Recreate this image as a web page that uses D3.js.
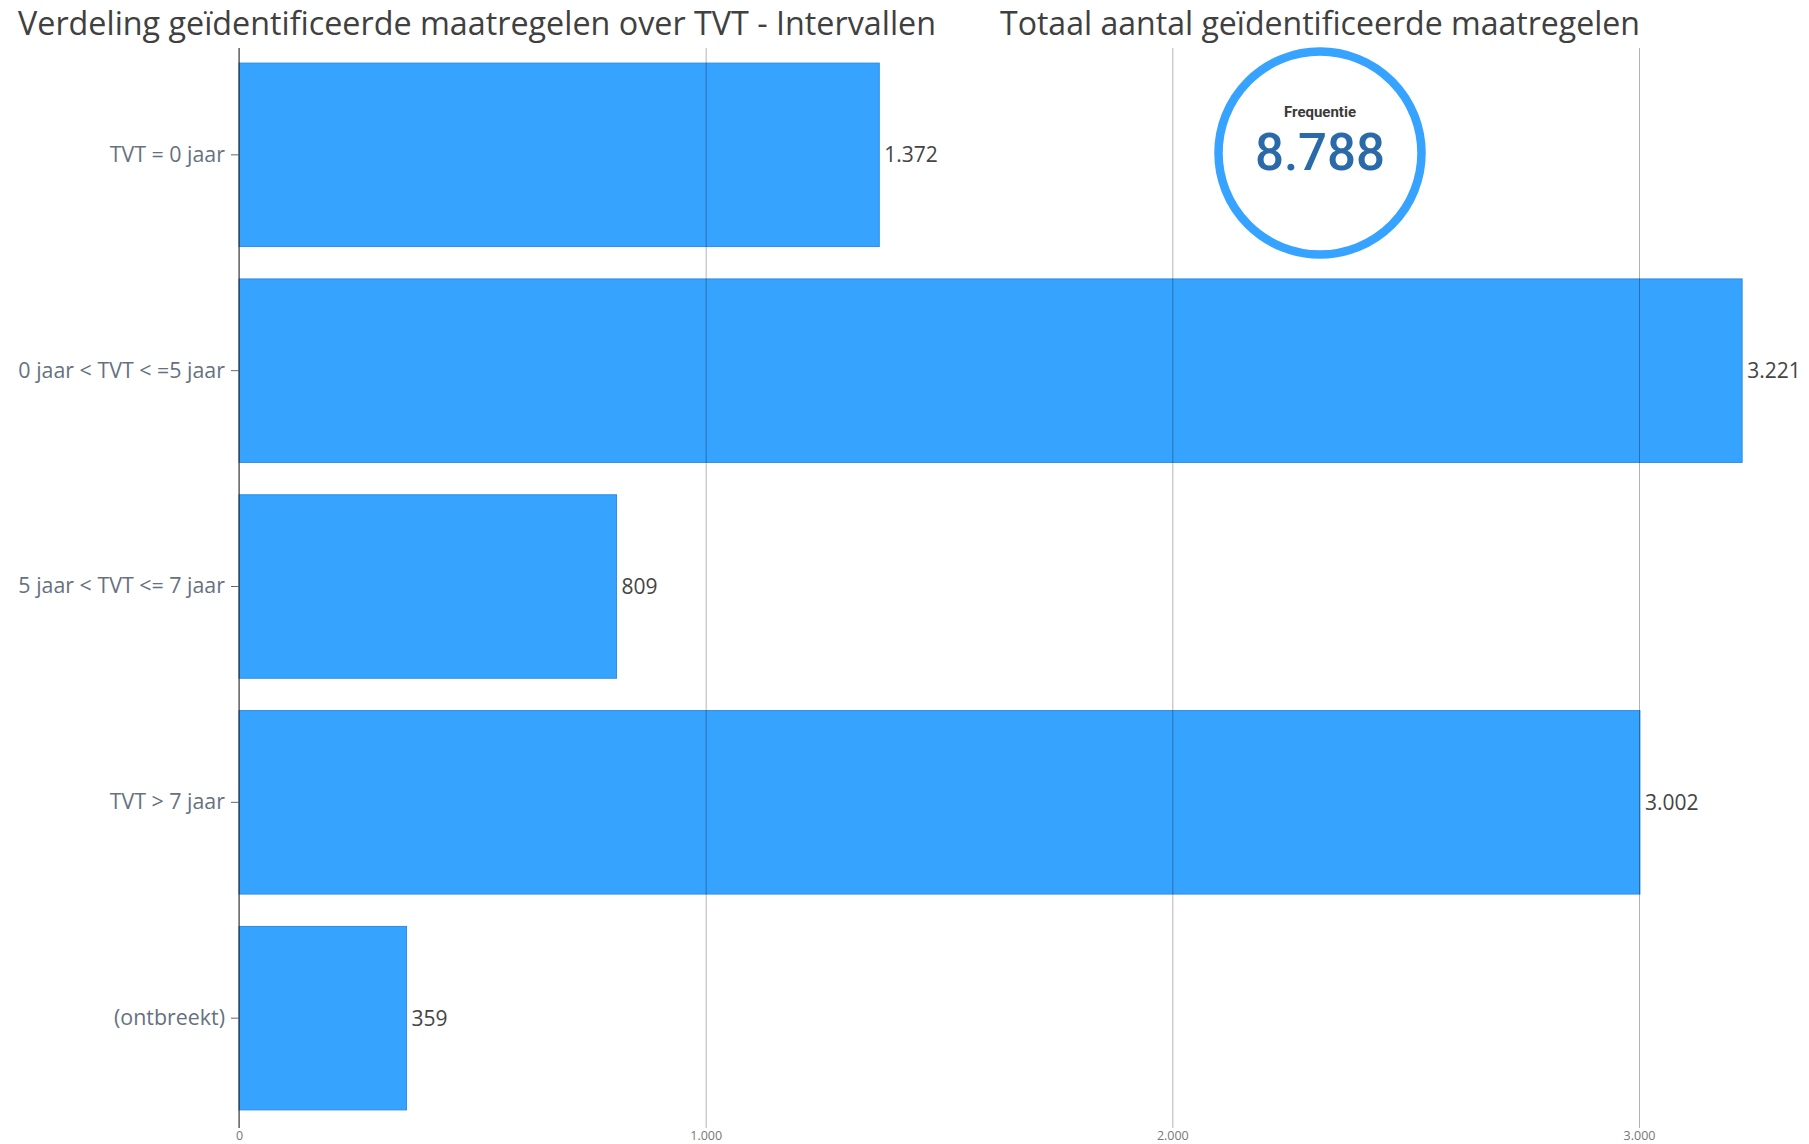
<!DOCTYPE html>
<html>
<head>
<meta charset="utf-8">
<script src="https://cdn.jsdelivr.net/npm/d3@7"></script>
<style>
  body { margin: 0; background: #fff; }
  svg { display: block; font-family: 'Open Sans', sans-serif; }
</style>
</head>
<body>
<div id="chart"></div>
<script>
const categories = ['TVT = 0 jaar', '0 jaar < TVT < =5 jaar', '5 jaar < TVT <= 7 jaar', 'TVT > 7 jaar', '(ontbreekt)'];
const values = [1372, 3221, 809, 3002, 359];
const xTicks = [0, 1000, 2000, 3000];
const total = 8788;

const width = 1809;
const height = 1144;
const fmt = d3.format(',');
const nl = v => fmt(v).replace(/,/g, '.');

const data = categories.map((c, i) => ({ cat: c, value: values[i] }));

const svg = d3.select('#chart')
  .append('svg')
  .attr('width', width)
  .attr('height', height);

const xScale = d3.scaleLinear()
  .domain([0, 3000])
  .range([239, 1639]);

const yScale = d3.scaleBand()
  .domain(categories)
  .range([48, 1125])
  .paddingInner(0.15)
  .paddingOuter(0.07);

// titles
svg.append('text')
  .attr('x', 18)
  .attr('y', 35)
  .attr('font-size', 33)
  .attr('fill', '#404040')
  .attr('textLength', 918)
  .attr('lengthAdjust', 'spacingAndGlyphs')
  .text('Verdeling geïdentificeerde maatregelen over TVT - Intervallen');

svg.append('text')
  .attr('x', 1000)
  .attr('y', 35)
  .attr('font-size', 33)
  .attr('fill', '#404040')
  .attr('textLength', 640)
  .attr('lengthAdjust', 'spacingAndGlyphs')
  .text('Totaal aantal geïdentificeerde maatregelen');

// bars
svg.selectAll('.bar')
  .data(data)
  .enter()
  .append('rect')
  .attr('class', 'bar')
  .attr('x', xScale(0))
  .attr('y', d => yScale(d.cat))
  .attr('width', d => xScale(d.value) - xScale(0))
  .attr('height', yScale.bandwidth())
  .attr('fill', '#35a3ff')
  .attr('stroke', '#2d8de0')
  .attr('stroke-width', 1);

// grid lines over the bars
const xAxis = d3.axisBottom(xScale)
  .tickValues(xTicks)
  .tickSize(-(1128 - 48))
  .tickPadding(3)
  .tickFormat(nl);

const gx = svg.append('g')
  .attr('transform', 'translate(0,1128)')
  .call(xAxis);
gx.select('.domain').remove();
gx.selectAll('.tick line')
  .attr('stroke', '#000')
  .attr('stroke-opacity', 0.3);
gx.selectAll('.tick text')
  .attr('font-size', 12.5)
  .attr('fill', '#777')
  .attr('font-family', "'Open Sans', sans-serif");

// y axis
const yAxis = d3.axisLeft(yScale).tickSize(8).tickPadding(6);
const gy = svg.append('g')
  .attr('transform', 'translate(239,0)')
  .call(yAxis);
gy.select('.domain')
  .attr('d', 'M0,48V1128')
  .attr('stroke', '#333');
gy.selectAll('.tick line').attr('stroke', '#666');
gy.selectAll('.tick text')
  .attr('font-size', 21.4)
  .attr('fill', '#667180')
  .attr('font-family', "'Open Sans', sans-serif");

// value labels
svg.selectAll('.val')
  .data(data)
  .enter()
  .append('text')
  .attr('class', 'val')
  .attr('x', d => xScale(d.value) + 5)
  .attr('y', d => yScale(d.cat) + yScale.bandwidth() / 2)
  .attr('dy', '0.35em')
  .attr('font-size', 21)
  .attr('fill', '#444')
  .text(d => nl(d.value));

// KPI circle
const kpi = svg.append('g').attr('transform', 'translate(1320,153)');
kpi.append('circle')
  .attr('r', 101.5)
  .attr('fill', '#fff')
  .attr('stroke', '#35a3ff')
  .attr('stroke-width', 8.5);
kpi.append('text')
  .attr('y', -41)
  .attr('dy', '0.35em')
  .attr('text-anchor', 'middle')
  .attr('font-size', 15)
  .attr('font-weight', 'bold')
  .attr('fill', '#3a3a3a')
  .attr('font-family', 'Roboto, sans-serif')
  .text('Frequentie');
kpi.append('text')
  .attr('y', 17)
  .attr('text-anchor', 'middle')
  .attr('font-size', 51)
  .attr('fill', '#2a6aa8')
  .attr('font-family', 'Roboto, sans-serif')
  .attr('font-weight', 500)
  .text(nl(total));
</script>
</body>
</html>
